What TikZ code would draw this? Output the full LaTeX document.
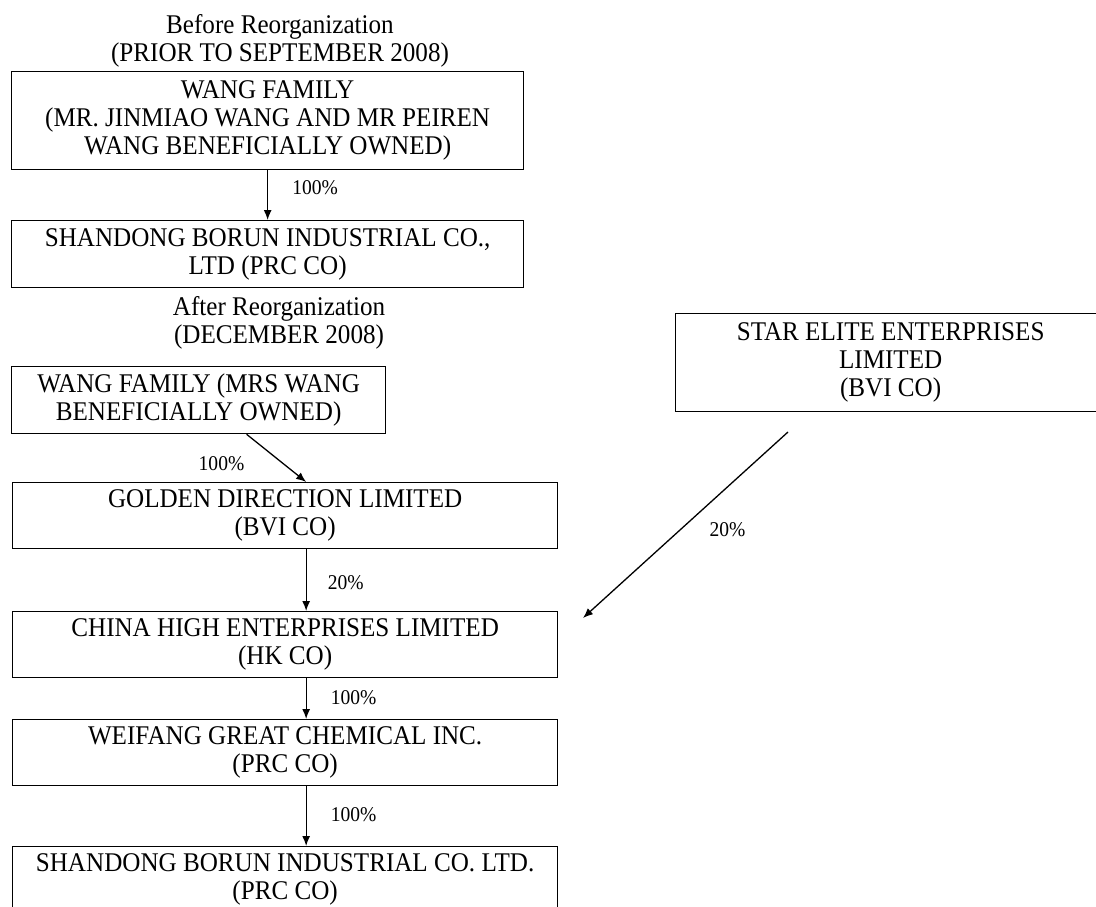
\documentclass[tikz,border=0pt]{standalone}
\usepackage{fontspec}
\setmainfont{Liberation Serif}[FakeStretch=0.93]
\usetikzlibrary{positioning,arrows.meta}

\begin{document}
\begin{tikzpicture}[x=1pt,y=-1pt,->,>={Latex[length=10pt,width=8pt]},line width=1.3pt,
    org node/.style={draw,rectangle,anchor=north west,align=center,inner sep=0pt,font=\fontsize{27}{28}\selectfont},
    head node/.style={align=center,inner sep=0pt,font=\fontsize{27}{28}\selectfont},
    pct node/.style={inner sep=0pt,font=\fontsize{21}{22}\selectfont}]

            \useasboundingbox (0,0) rectangle (1096,907);

            % before reorganization
            \node[head node] (before) at (280,41) {Before Reorganization\\(PRIOR TO SEPTEMBER 2008)};
            \node[org node, minimum width=512, minimum height=98] (wang) at (11,71) {WANG FAMILY\\(MR. JINMIAO WANG AND MR PEIREN\\WANG BENEFICIALLY OWNED)};
            \node[org node, minimum width=512, minimum height=67] (borun) at (11,220) {SHANDONG BORUN INDUSTRIAL CO.,\\LTD (PRC CO)};

            % after reorganization
            \node[head node] (after) at (279,323) {After Reorganization\\(DECEMBER 2008)};
            \node[org node, minimum width=374, minimum height=67] (wangb) at (11,366) {WANG FAMILY (MRS WANG\\BENEFICIALLY OWNED)};
            \node[org node, minimum width=545, minimum height=66] (gold) at (12,482) {GOLDEN DIRECTION LIMITED\\(BVI CO)};
            \node[org node, minimum width=545, minimum height=66] (china) at (12,611) {CHINA HIGH ENTERPRISES LIMITED\\(HK CO)};
            \node[org node, minimum width=545, minimum height=66] (weifang) at (12,719) {WEIFANG GREAT CHEMICAL INC.\\(PRC CO)};
            \node[org node, minimum width=545, minimum height=66] (borunb) at (12,846) {SHANDONG BORUN INDUSTRIAL CO. LTD.\\(PRC CO)};
            \node[org node, minimum width=430, minimum height=98] (star) at (675,313) {STAR ELITE ENTERPRISES\\LIMITED\\(BVI CO)};

            \coordinate (star tail) at (788,432);
            \coordinate (star tip) at (583,618);

            \draw (wang.south) -- node[pct node, pos=0.35, right=24pt] {100\%} (borun.north);
            \draw ([xshift=48pt]wangb.south) -- node[pct node, pos=0.61, left=38pt] {100\%} ([xshift=21pt]gold.north);
            \draw ([xshift=21pt]gold.south) -- node[pct node, pos=0.54, right=21pt] {20\%} ([xshift=21pt]china.north);
            \draw ([xshift=21pt]china.south) -- node[pct node, pos=0.48, right=24pt] {100\%} ([xshift=21pt]weifang.north);
            \draw ([xshift=21pt]weifang.south) -- node[pct node, pos=0.475, right=24pt] {100\%} ([xshift=21pt]borunb.north);
            \draw (star tail) -- node[pct node, pos=0.527, right=29pt] {20\%} (star tip);
        \end{tikzpicture}
\end{document}
